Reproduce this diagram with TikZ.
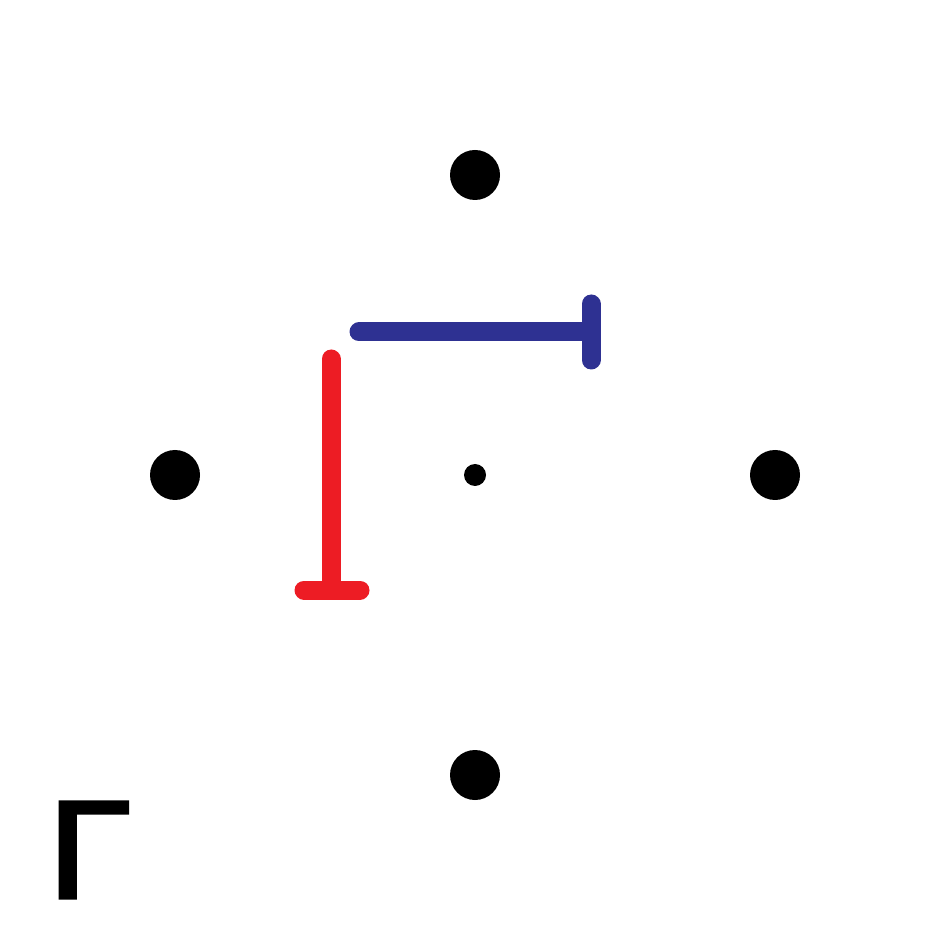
\documentclass[tikz,border=0pt]{standalone}
\usepackage{fontspec}
\newfontfamily\gammafont[FakeBold=2.5]{DejaVu Sans}
\usetikzlibrary{positioning}
\begin{document}
\begin{tikzpicture}[x=0.1mm,y=-0.1mm]
\definecolor{color0}{HTML}{000000}
\definecolor{color1}{HTML}{2E3192}
\definecolor{color2}{HTML}{ED1C24}
\tikzset{
  site/.style={circle,fill=color0,inner sep=0pt,minimum size=5mm},
  centre/.style={circle,fill=color0,inner sep=0pt,minimum size=2.2mm},
  tee/.style={line width=1.9mm,line cap=round}
}
\useasboundingbox (0,0) rectangle (950,950);
% lattice sites
\node[site] (top) at (475,175) {};
\node[site] (left) at (175,475) {};
\node[site] (right) at (775,475) {};
\node[site] (bottom) at (475,775) {};
\node[centre] (mid) at (475,475) {};
% blue tee
\coordinate (b0) at (359,332);
\coordinate (b1) at (591,332);
\coordinate (b2) at (591,304);
\coordinate (b3) at (591,360);
\draw[color1,tee] (b0) -- (b1);
\draw[color1,tee] (b2) -- (b3);
% red tee
\coordinate (r0) at (331,359);
\coordinate (r1) at (331,590);
\coordinate (r2) at (304,590);
\coordinate (r3) at (360,590);
\draw[color2,tee] (r0) -- (r1);
\draw[color2,tee] (r2) -- (r3);
% label
\node[anchor=center,inner sep=0pt,xscale=1.2,yscale=1.07,font=\gammafont\fontsize{35}{35}\selectfont] (gam) at (87,850) {Γ};
\end{tikzpicture}
\end{document}
